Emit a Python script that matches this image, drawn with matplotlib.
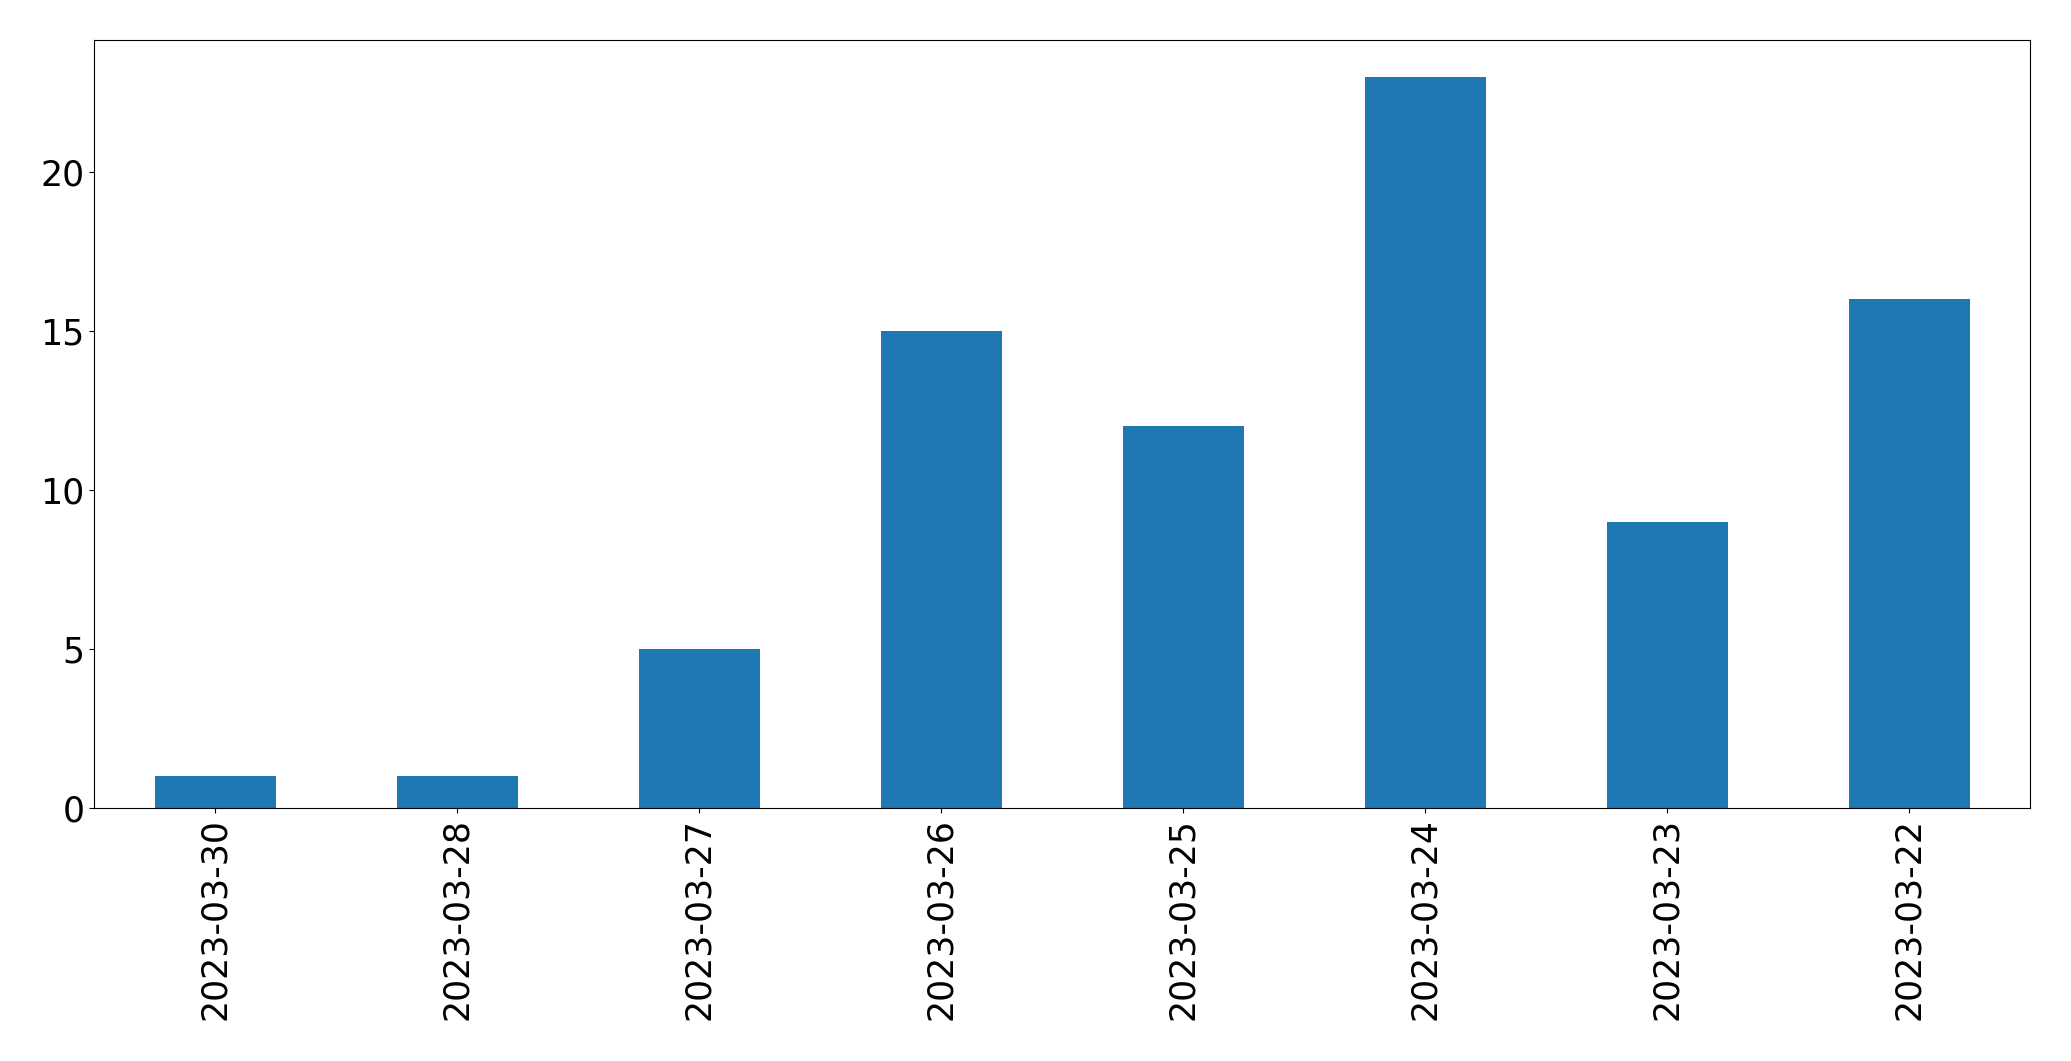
import matplotlib
matplotlib.use("Agg")
import matplotlib.pyplot as plt
import numpy as np

# counts per day
dates = ["2023-03-30", "2023-03-28", "2023-03-27", "2023-03-26",
         "2023-03-25", "2023-03-24", "2023-03-23", "2023-03-22"]
counts = [1, 1, 5, 15, 12, 23, 9, 16]

fig, ax = plt.subplots(figsize=(20.71, 10.61), dpi=100)
x = np.arange(len(dates))
ax.bar(x, counts, width=0.5, color="#1f77b4")
ax.set_xlim(-0.5, len(dates) - 0.5)
ax.set_xticks(x)
ax.set_xticklabels(dates, rotation=90)
ax.tick_params(axis="both", labelsize=25)
fig.subplots_adjust(left=94 / 2071, right=2030 / 2071, top=1 - 40 / 1061, bottom=1 - 808 / 1061)
fig.savefig("out.png", dpi=100)
